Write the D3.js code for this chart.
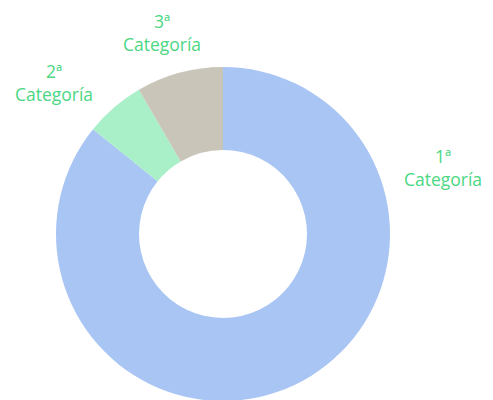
<!DOCTYPE html>
<html><head><meta charset="utf-8">
<script src="https://cdn.jsdelivr.net/npm/d3@7"></script>
<style>html,body{margin:0;padding:0;background:#fff;}</style>
</head><body>
<svg id="c" width="493" height="400"></svg>
<script>
const categories = ["1ª Categoría", "2ª Categoría", "3ª Categoría"];
const values = [85.8, 5.8, 8.4];
const colors = ["#A9C5F4", "#A9EFC7", "#C9C5B9"];
const labelColor = "#4BD783";
// label anchor offsets relative to donut centre (layout only)
const labelPos = [[220, -71], [-169, -156], [-61, -206]];

const W = 493, H = 400, cx = 223, cy = 234, R = 167, r = 84;
const svg = d3.select("#c");
const g = svg.append("g").attr("transform", `translate(${cx},${cy})`);
const pie = d3.pie().sort(null).value(d => d)(values);
const arc = d3.arc().innerRadius(r).outerRadius(R);
g.selectAll("path").data(pie).join("path")
  .attr("d", arc).attr("fill", (d, i) => colors[i]);

const lab = g.selectAll("text.l").data(categories).join("text")
  .attr("class", "l")
  .attr("text-anchor", "middle")
  .attr("font-family", "Open Sans, sans-serif")
  .attr("font-size", 17.5)
  .attr("fill", labelColor)
  .attr("transform", (d, i) => `translate(${labelPos[i][0]},${labelPos[i][1]})`);
lab.each(function(d) {
  const parts = d.split(" ");
  const t = d3.select(this);
  t.append("tspan").attr("x", 0).attr("dy", 0).text(parts[0]);
  t.append("tspan").attr("x", 0).attr("dy", 23).text(parts[1]);
});
</script>
</body></html>
